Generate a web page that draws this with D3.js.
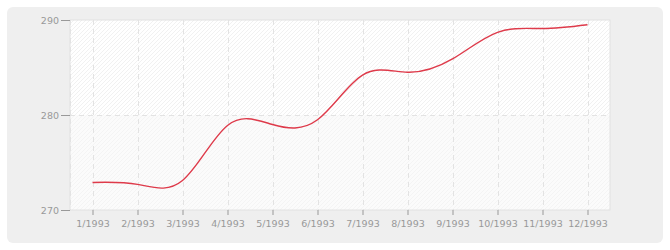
<!DOCTYPE html>
<html>
<head>
<meta charset="utf-8">
<script src="https://cdn.jsdelivr.net/npm/d3@7"></script>
<style>
  body { margin: 0; background: #fff; }
  text { font-family: "DejaVu Sans", Verdana, sans-serif; font-size: 9.5px; fill: #999; }
</style>
</head>
<body>
<div id="plot"></div>
<script>
// months on the x axis
var months = ["1/1993", "2/1993", "3/1993", "4/1993", "5/1993", "6/1993",
  "7/1993", "8/1993", "9/1993", "10/1993", "11/1993", "12/1993"]
// values
var values = [272.9, 272.7, 273.1, 278.9, 279.0, 279.5,
  284.2, 284.5, 285.9, 288.7, 289.1, 289.5]
var yTicks = [270, 280, 290]

var svgWidth = 670
var svgHeight = 250

var margin = { top: 20, right: 60, bottom: 40, left: 70 }
var width = svgWidth - margin.left - margin.right
var height = svgHeight - margin.top - margin.bottom

var svg = d3.select("#plot")
  .append("svg")
  .attr("width", svgWidth)
  .attr("height", svgHeight)

// grey rounded panel
svg.append("rect")
  .attr("x", 7).attr("y", 7)
  .attr("width", 656).attr("height", 236)
  .attr("rx", 6)
  .attr("fill", "#efefef")

// hatch patterns
var defs = svg.append("defs")
function hatch(id, bg, stroke) {
  var p = defs.append("pattern")
    .attr("id", id)
    .attr("patternUnits", "userSpaceOnUse")
    .attr("width", 4).attr("height", 4)
  p.append("rect").attr("width", 4).attr("height", 4).attr("fill", bg)
  p.append("path")
    .attr("d", "M-1,1 l2,-2 M0,4 l4,-4 M3,5 l2,-2")
    .attr("stroke", stroke)
    .attr("stroke-width", 1)
}
hatch("hatchTop", "#ffffff", "#f1f1f1")
hatch("hatchBottom", "#fbfbfb", "#f4f4f4")

var chartGroup = svg.append("g")
  .attr("transform", `translate(${margin.left}, ${margin.top})`)

var xScale = d3.scalePoint()
  .domain(months)
  .range([0, width])
  .padding(0.5)

var yScale = d3.scaleLinear()
  .domain([270, 290])
  .range([height, 0])

// plot background, two bands
chartGroup.append("rect")
  .attr("x", 0).attr("y", yScale(290))
  .attr("width", width).attr("height", yScale(280) - yScale(290))
  .attr("fill", "url(#hatchTop)")
chartGroup.append("rect")
  .attr("x", 0).attr("y", yScale(280))
  .attr("width", width).attr("height", yScale(270) - yScale(280))
  .attr("fill", "url(#hatchBottom)")

// border
chartGroup.append("rect")
  .attr("x", 0).attr("y", 0)
  .attr("width", width).attr("height", height)
  .attr("fill", "none")
  .attr("stroke", "#e2e2e2")

// dashed grid
chartGroup.selectAll(".vgrid")
  .data([null].concat(months))
  .enter()
  .append("line")
  .attr("x1", d => d === null ? 0.5 : Math.round(xScale(d)) + 0.5)
  .attr("x2", d => d === null ? 0.5 : Math.round(xScale(d)) + 0.5)
  .attr("y1", 0).attr("y2", height)
  .attr("stroke", "#e3e3e3")
  .attr("stroke-dasharray", "5,4")

chartGroup.append("line")
  .attr("x1", 0).attr("x2", width)
  .attr("y1", Math.round(yScale(280)) + 0.5)
  .attr("y2", Math.round(yScale(280)) + 0.5)
  .attr("stroke", "#e3e3e3")
  .attr("stroke-dasharray", "5,4")

// axes
var leftAxis = d3.axisLeft(yScale)
  .tickValues(yTicks)
  .tickSize(9)
  .tickPadding(2)
var bottomAxis = d3.axisBottom(xScale)
  .tickSize(5)
  .tickPadding(5)

chartGroup.append("g").call(leftAxis)
chartGroup.append("g")
  .attr("transform", `translate(0, ${height})`)
  .call(bottomAxis)

svg.selectAll(".domain").remove()
svg.selectAll(".tick line").attr("stroke", "#999")
svg.selectAll(".tick text").attr("fill", "#999")

// the line, natural cubic spline
var line = d3.line()
  .x((d, i) => xScale(months[i]))
  .y(d => yScale(d))
  .curve(d3.curveNatural)

chartGroup.append("path")
  .datum(values)
  .attr("d", line)
  .attr("fill", "none")
  .attr("stroke", "#de3a4a")
  .attr("stroke-width", 1.4)
</script>
</body>
</html>
